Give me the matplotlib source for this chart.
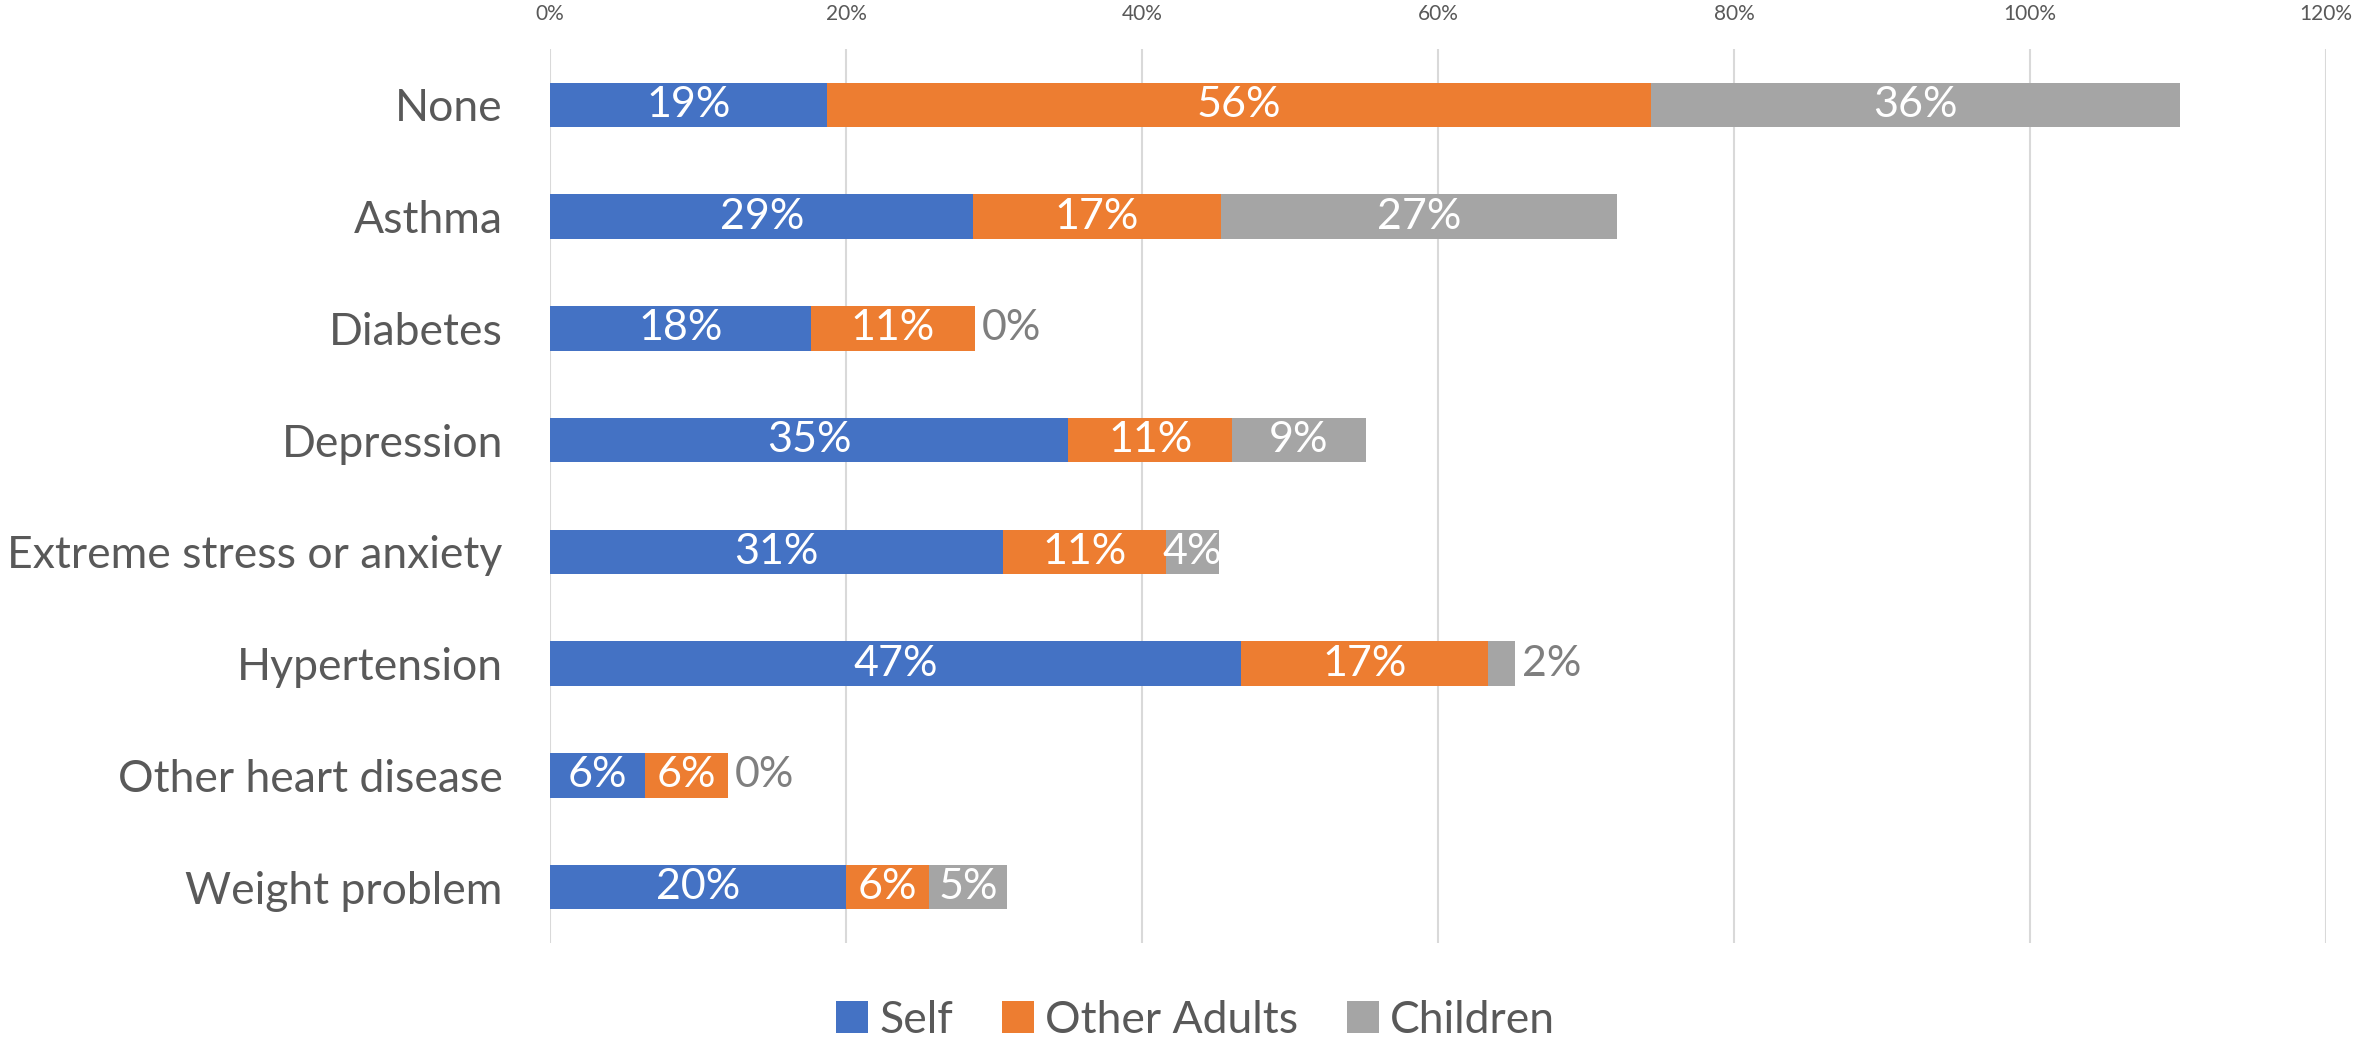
import matplotlib
matplotlib.use("Agg")
import matplotlib.pyplot as plt
import numpy as np
from matplotlib.patches import Patch

# Health conditions in the household, share of respondents by who is affected
conditions = [
    "None",
    "Asthma",
    "Diabetes",
    "Depression",
    "Extreme stress or anxiety",
    "Hypertension",
    "Other heart disease",
    "Weight problem",
]
self_pct = [18.7, 28.6, 17.6, 35.0, 30.6, 46.7, 6.4, 20.0]
other_adults_pct = [55.7, 16.7, 11.1, 11.1, 11.0, 16.7, 5.6, 5.6]
children_pct = [35.7, 26.8, 0.0, 9.0, 3.6, 1.8, 0.0, 5.3]

series_names = ["Self", "Other Adults", "Children"]
series_colors = ["#4472C4", "#ED7D31", "#A5A5A5"]
x_ticks = [0, 20, 40, 60, 80, 100, 120]

TEXT_GREY = "#595959"
plt.rcParams["font.family"] = ["Lato", "DejaVu Sans"]

fig = plt.figure(figsize=(23.77, 10.39), dpi=100)
ax = fig.add_axes([0.2314, 0.0924, 0.7472, 0.8604])

y = np.arange(len(conditions))
left = np.zeros(len(conditions))
for name, values, color in zip(series_names, [self_pct, other_adults_pct, children_pct], series_colors):
    values = np.array(values)
    ax.barh(y, values, left=left, height=0.4, color=color, label=name, zorder=3)
    for yi, lft, v in zip(y, left, values):
        label = f"{v:.0f}%"
        if v < 3:
            # tiny segments get their label just past the end of the bar
            ax.text(lft + v + 0.5, yi, label, ha="left", va="center",
                    fontsize=31, color="#7F7F7F", zorder=4)
        else:
            ax.text(lft + v / 2, yi, label, ha="center", va="center",
                    fontsize=31, color="white", zorder=4)
    left = left + values

ax.set_xlim(0, 120)
ax.set_ylim(len(conditions) - 0.5, -0.5)
ax.set_xticks(x_ticks)
ax.set_xticklabels([f"{t}%" for t in x_ticks])
ax.xaxis.tick_top()
ax.tick_params(axis="x", length=0, pad=18, labelsize=15, labelcolor=TEXT_GREY)
ax.set_yticks(y)
ax.set_yticklabels(conditions)
ax.tick_params(axis="y", length=0, pad=34, labelsize=32, labelcolor=TEXT_GREY)
ax.grid(axis="x", color="#D9D9D9", linewidth=1.5, zorder=0)
for spine in ax.spines.values():
    spine.set_visible(False)

handles = [Patch(facecolor=c, label=n) for n, c in zip(series_names, series_colors)]
fig.legend(handles=handles, loc="lower center", bbox_to_anchor=(0.503, -0.04),
           ncol=3, frameon=False, fontsize=32, labelcolor=TEXT_GREY,
           handlelength=0.72, handleheight=0.72, handletextpad=0.25, columnspacing=1.1)

fig.savefig("out.png", dpi=100)
